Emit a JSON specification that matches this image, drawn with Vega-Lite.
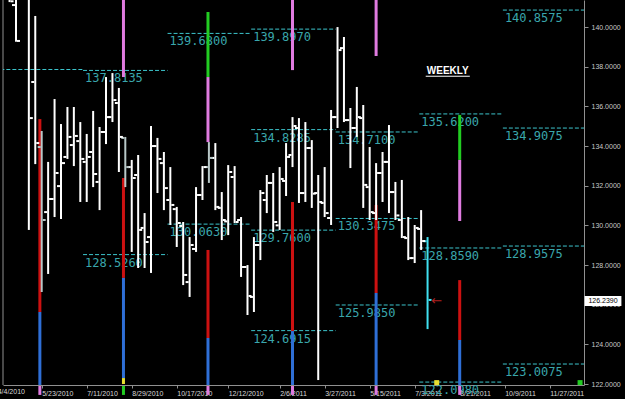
{
"$schema": "https://vega.github.io/schema/vega-lite/v6.json",
"width": 581, "height": 385,
"autosize": "none",
"padding": {"left": 3, "top": 0, "right": 41, "bottom": 14},
"background": "#000000",
"config": {"view": {"stroke": null}, "font": "Liberation Sans"},
"datasets": {
"frame": [{"d": "2010-04-10T21:00:00Z"}],
"bars": [
{"d":"2010-04-18","o":141.8,"h":142.3,"l":141.26,"c":141.3,"s":"h"},
{"d":"2010-04-25","o":141.11,"h":142.2,"l":139.26,"c":139.3,"s":"h"},
{"d":"2010-05-02","o":142.0,"h":142.8,"l":141.5,"c":141.7,"s":"h"},
{"d":"2010-05-09","o":141.5,"h":141.8,"l":129.77,"c":135.41,"s":"h"},
{"d":"2010-05-16","o":137.23,"h":140.56,"l":133.09,"c":134.15,"s":"h"},
{"d":"2010-05-23","o":133.95,"h":134.76,"l":126.64,"c":130.27,"s":"q"},
{"d":"2010-05-30","o":130.67,"h":133.2,"l":127.55,"c":131.33,"s":"h"},
{"d":"2010-06-06","o":131.33,"h":136.37,"l":130.42,"c":132.64,"s":"h"},
{"d":"2010-06-13","o":131.98,"h":135.11,"l":130.32,"c":133.14,"s":"h"},
{"d":"2010-06-20","o":133.45,"h":135.97,"l":133.35,"c":134.46,"s":"h"},
{"d":"2010-06-27","o":134.05,"h":135.97,"l":132.99,"c":134.51,"s":"h"},
{"d":"2010-07-04","o":134.25,"h":135.21,"l":131.18,"c":133.35,"s":"h"},
{"d":"2010-07-11","o":133.2,"h":134.61,"l":131.18,"c":133.45,"s":"h"},
{"d":"2010-07-18","o":133.7,"h":135.77,"l":131.93,"c":132.59,"s":"h"},
{"d":"2010-07-25","o":132.19,"h":134.96,"l":130.77,"c":134.71,"s":"h"},
{"d":"2010-08-01","o":134.71,"h":137.48,"l":134.1,"c":135.46,"s":"h"},
{"d":"2010-08-08","o":135.46,"h":137.68,"l":135.21,"c":136.32,"s":"h"},
{"d":"2010-08-15","o":136.17,"h":136.93,"l":132.69,"c":134.46,"s":"h"},
{"d":"2010-08-22","o":134.41,"h":134.46,"l":131.93,"c":132.94,"s":"q"},
{"d":"2010-08-29","o":132.94,"h":133.3,"l":128.66,"c":132.39,"s":"h"},
{"d":"2010-09-05","o":132.54,"h":133.55,"l":127.85,"c":129.77,"s":"h"},
{"d":"2010-09-12","o":129.87,"h":130.62,"l":127.85,"c":129.16,"s":"h"},
{"d":"2010-09-19","o":129.41,"h":135.01,"l":127.6,"c":134.0,"s":"h"},
{"d":"2010-09-26","o":134.0,"h":134.41,"l":131.63,"c":133.35,"s":"h"},
{"d":"2010-10-03","o":133.14,"h":133.7,"l":130.77,"c":131.88,"s":"h"},
{"d":"2010-10-10","o":131.28,"h":132.94,"l":130.02,"c":131.03,"s":"h"},
{"d":"2010-10-17","o":130.82,"h":130.93,"l":128.91,"c":130.12,"s":"h"},
{"d":"2010-10-24","o":129.97,"h":130.17,"l":126.99,"c":127.5,"s":"h"},
{"d":"2010-10-31","o":127.14,"h":129.41,"l":126.39,"c":129.01,"s":"h"},
{"d":"2010-11-07","o":128.81,"h":131.93,"l":128.66,"c":131.53,"s":"h"},
{"d":"2010-11-14","o":131.53,"h":132.99,"l":131.28,"c":132.94,"s":"h"},
{"d":"2010-11-21","o":132.94,"h":134.2,"l":132.14,"c":133.4,"s":"q"},
{"d":"2010-11-28","o":133.4,"h":134.15,"l":130.77,"c":130.93,"s":"h"},
{"d":"2010-12-05","o":130.88,"h":131.68,"l":129.26,"c":130.27,"s":"h"},
{"d":"2010-12-12","o":130.2,"h":133.04,"l":129.51,"c":132.69,"s":"h"},
{"d":"2010-12-19","o":132.44,"h":132.99,"l":130.12,"c":130.17,"s":"h"},
{"d":"2010-12-26","o":130.27,"h":130.42,"l":127.4,"c":127.9,"s":"h"},
{"d":"2011-01-02","o":127.9,"h":128.0,"l":125.48,"c":126.44,"s":"h"},
{"d":"2011-01-09","o":126.39,"h":129.41,"l":125.63,"c":129.01,"s":"h"},
{"d":"2011-01-16","o":129.01,"h":131.78,"l":128.25,"c":131.63,"s":"h"},
{"d":"2011-01-23","o":131.28,"h":132.54,"l":130.62,"c":132.14,"s":"h"},
{"d":"2011-01-30","o":132.14,"h":132.64,"l":129.67,"c":130.17,"s":"h"},
{"d":"2011-02-06","o":130.0,"h":132.94,"l":129.77,"c":132.34,"s":"h"},
{"d":"2011-02-13","o":132.24,"h":134.15,"l":131.48,"c":133.45,"s":"h"},
{"d":"2011-02-20","o":133.55,"h":135.46,"l":132.94,"c":135.01,"s":"h"},
{"d":"2011-02-27","o":134.91,"h":135.41,"l":131.13,"c":131.63,"s":"h"},
{"d":"2011-03-06","o":131.63,"h":135.21,"l":131.18,"c":133.9,"s":"h"},
{"d":"2011-03-13","o":133.9,"h":134.3,"l":130.88,"c":131.6,"s":"h"},
{"d":"2011-03-20","o":131.63,"h":132.54,"l":122.2,"c":131.18,"s":"h"},
{"d":"2011-03-27","o":131.13,"h":132.94,"l":130.42,"c":130.62,"s":"h"},
{"d":"2011-04-03","o":130.37,"h":135.82,"l":130.02,"c":135.46,"s":"h"},
{"d":"2011-04-10","o":135.46,"h":140.0,"l":134.91,"c":138.84,"s":"h"},
{"d":"2011-04-17","o":138.94,"h":139.5,"l":135.21,"c":135.31,"s":"h"},
{"d":"2011-04-24","o":135.31,"h":135.92,"l":132.89,"c":134.91,"s":"h"},
{"d":"2011-05-01","o":134.91,"h":136.98,"l":134.46,"c":135.46,"s":"h"},
{"d":"2011-05-08","o":135.41,"h":136.07,"l":130.88,"c":132.04,"s":"h"},
{"d":"2011-05-15","o":131.93,"h":133.95,"l":130.27,"c":130.67,"s":"h"},
{"d":"2011-05-22","o":130.62,"h":133.14,"l":130.27,"c":132.64,"s":"h"},
{"d":"2011-05-29","o":132.64,"h":133.7,"l":131.18,"c":133.2,"s":"h"},
{"d":"2011-06-05","o":133.2,"h":135.06,"l":130.62,"c":131.68,"s":"h"},
{"d":"2011-06-12","o":131.68,"h":132.19,"l":130.27,"c":130.5,"s":"h"},
{"d":"2011-06-19","o":130.27,"h":132.29,"l":129.36,"c":129.41,"s":"h"},
{"d":"2011-06-26","o":129.36,"h":130.42,"l":128.25,"c":128.35,"s":"h"},
{"d":"2011-07-03","o":128.35,"h":130.02,"l":128.1,"c":129.87,"s":"h"},
{"d":"2011-07-10","o":129.82,"h":130.77,"l":128.76,"c":129.21,"s":"h"},
{"d":"2011-07-17","o":129.2,"h":129.41,"l":124.77,"c":126.24,"s":"cur"}
],
"levels": [
{"d":"2010-04-08","d2":"2010-07-07","p":137.86,"lab":""},
{"d":"2010-07-07","d2":"2010-10-07","p":137.8135,"lab":"137.8135"},
{"d":"2010-07-07","d2":"2010-10-07","p":128.526,"lab":"128.5260"},
{"d":"2010-10-07","d2":"2011-01-06","p":139.68,"lab":"139.6800"},
{"d":"2010-10-07","d2":"2011-01-06","p":130.063,"lab":"130.0630"},
{"d":"2011-01-06","d2":"2011-04-08","p":139.897,"lab":"139.8970"},
{"d":"2011-01-06","d2":"2011-04-08","p":134.8285,"lab":"134.8285"},
{"d":"2011-01-06","d2":"2011-04-08","p":129.76,"lab":"129.7600"},
{"d":"2011-01-06","d2":"2011-04-08","p":124.6915,"lab":"124.6915"},
{"d":"2011-04-08","d2":"2011-07-08","p":134.71,"lab":"134.7100"},
{"d":"2011-04-08","d2":"2011-07-08","p":130.3475,"lab":"130.3475"},
{"d":"2011-04-08","d2":"2011-07-08","p":125.985,"lab":"125.9850"},
{"d":"2011-07-08","d2":"2011-10-07","p":135.62,"lab":"135.6200"},
{"d":"2011-07-08","d2":"2011-10-07","p":128.859,"lab":"128.8590"},
{"d":"2011-07-08","d2":"2011-10-07","p":122.098,"lab":"122.0980"},
{"d":"2011-10-07","d2":"2012-01-04","p":140.8575,"lab":"140.8575"},
{"d":"2011-10-07","d2":"2012-01-04","p":134.9075,"lab":"134.9075"},
{"d":"2011-10-07","d2":"2012-01-04","p":128.9575,"lab":"128.9575"},
{"d":"2011-10-07","d2":"2012-01-04","p":123.0075,"lab":"123.0075"}
],
"ind": [
{"d":"2010-05-21","lo":125.63,"hi":135.36,"st":"R"},
{"d":"2010-05-21","lo":121.95,"hi":125.63,"st":"B"},
{"d":"2010-05-21","lo":121.45,"hi":121.9,"st":"P"},
{"d":"2010-08-20","lo":137.48,"hi":141.37,"st":"P"},
{"d":"2010-08-20","lo":127.35,"hi":132.39,"st":"R"},
{"d":"2010-08-20","lo":122.3,"hi":127.35,"st":"B"},
{"d":"2010-08-20","lo":122.0,"hi":122.3,"st":"Y"},
{"d":"2010-08-20","lo":121.45,"hi":121.9,"st":"G"},
{"d":"2010-11-20","lo":137.48,"hi":140.76,"st":"G"},
{"d":"2010-11-20","lo":134.2,"hi":137.48,"st":"P"},
{"d":"2010-11-20","lo":124.32,"hi":128.76,"st":"R"},
{"d":"2010-11-20","lo":121.95,"hi":124.32,"st":"B"},
{"d":"2010-11-20","lo":121.45,"hi":121.9,"st":"P"},
{"d":"2011-02-20","lo":137.83,"hi":141.37,"st":"P"},
{"d":"2011-02-20","lo":124.67,"hi":131.18,"st":"R"},
{"d":"2011-02-20","lo":121.95,"hi":124.67,"st":"B"},
{"d":"2011-02-20","lo":121.45,"hi":121.9,"st":"P"},
{"d":"2011-05-22","lo":138.54,"hi":141.37,"st":"P"},
{"d":"2011-05-22","lo":126.59,"hi":131.03,"st":"R"},
{"d":"2011-05-22","lo":121.95,"hi":126.59,"st":"B"},
{"d":"2011-05-22","lo":121.45,"hi":121.9,"st":"P"},
{"d":"2011-08-21","lo":133.3,"hi":135.57,"st":"G"},
{"d":"2011-08-21","lo":130.22,"hi":133.3,"st":"P"},
{"d":"2011-08-21","lo":124.22,"hi":127.24,"st":"R"},
{"d":"2011-08-21","lo":121.95,"hi":124.22,"st":"B"},
{"d":"2011-08-21","lo":121.45,"hi":121.9,"st":"P"}
],
"title": [{"d":"2011-08-08","y":137.63,"t":"WEEKLY"}],
"under": [{"d":"2011-07-15","d2":"2011-09-01","y":137.52}],
"arrow": [{"d":"2011-07-27","y":126.2,"t":"←"}],
"firstlab": [{"d":"2010-04-04","y":121.6,"t":"4/4/2010"}],
"box": [{"d":"2012-01-04","d2":"2012-02-13","y":125.93,"y2":126.44,"m":"2012-01-24","p":126.19,"t":"126.2390"}],
"marks": [{"d":"2011-07-27","y":122.07,"st":"Y"},{"d":"2011-12-30","y":122.07,"st":"G"}]
},
"encoding": {
"x": {"field": "d", "type": "temporal", "title": null,
 "scale": {"type": "utc", "domain": [{"year":2010,"month":4,"date":10,"hours":21,"utc":true},{"year":2012,"month":1,"date":3,"hours":7,"utc":true}]},
 "axis": {"title": null, "format": "%-m/%-d/%Y", "labelAlign": "left", "labelBaseline": "top", "labelDx": 1, "labelPadding": 1,
  "labelFontSize": 7, "labelColor": "#d8d8d8", "labelFont": "Liberation Sans", "tickSize": 3, "tickColor": "#909090",
  "domainColor": "#909090", "labelOverlap": false, "labelFlush": false, "grid": false,
  "values": [
   {"year":2010,"month":5,"date":23,"utc":true},{"year":2010,"month":7,"date":11,"utc":true},
   {"year":2010,"month":8,"date":29,"utc":true},{"year":2010,"month":10,"date":17,"utc":true},{"year":2010,"month":12,"date":12,"utc":true},
   {"year":2011,"month":2,"date":6,"utc":true},{"year":2011,"month":3,"date":27,"utc":true},{"year":2011,"month":5,"date":15,"utc":true},
   {"year":2011,"month":7,"date":3,"utc":true},{"year":2011,"month":8,"date":21,"utc":true},{"year":2011,"month":10,"date":9,"utc":true},
   {"year":2011,"month":11,"date":27,"utc":true}]}}
},
"layer": [
{"data": {"name": "frame"}, "mark": {"type": "rule", "color": "#909090", "strokeWidth": 1}},
{"data": {"name": "bars"},
 "mark": {"type": "rule", "strokeWidth": 0, "opacity": 0},
 "encoding": {"y": {"field": "l", "type": "quantitative", "title": null, "scale": {"domain": [121.95, 141.365], "zero": false, "nice": false},
   "axis": {"orient": "right", "title": null, "values": [122,124,126,128,130,132,134,136,138,140], "format": ".4f", "labelFontSize": 7, "labelColor": "#c8c8c8", "labelFont": "Liberation Sans", "tickSize": 4, "tickColor": "#909090", "domainColor": "#909090", "labelPadding": 3, "grid": false}}}},
{"data": {"name": "levels"},
 "mark": {"type": "rule", "strokeDash": [4, 2], "color": "#3cc4cc", "strokeWidth": 1, "clip": true},
 "encoding": {"x2": {"field": "d2"}, "y": {"field": "p", "type": "quantitative", "title": null, "scale": {"domain": [121.95, 141.365], "zero": false, "nice": false}}}},
{"data": {"name": "levels"},
 "mark": {"type": "text", "align": "left", "baseline": "top", "dx": 2, "dy": 3, "font": "DejaVu Sans Mono", "fontSize": 12, "color": "#3aa6ac", "clip": false},
 "encoding": {"y": {"field": "p", "type": "quantitative", "title": null, "scale": {"domain": [121.95, 141.365], "zero": false, "nice": false}}, "text": {"field": "lab"}}},
{"data": {"name": "ind"},
 "mark": {"type": "rule", "strokeWidth": 3, "clip": false},
 "encoding": {"y": {"field": "lo", "type": "quantitative", "title": null, "scale": {"domain": [121.95, 141.365], "zero": false, "nice": false}},
  "y2": {"field": "hi"},
  "color": {"field": "st", "type": "nominal", "legend": null, "scale": {"domain": ["h","q","cur","P","G","R","B","Y"], "range": ["#ffffff","#b8c8c8","#40e0f0","#e07be0","#22cc22","#cc1111","#2f6fd6","#e8e030"]}}}},
{"data": {"name": "bars"},
 "mark": {"type": "rule", "strokeWidth": 2, "clip": true},
 "encoding": {"y": {"field": "l", "type": "quantitative", "title": null, "scale": {"domain": [121.95, 141.365], "zero": false, "nice": false}},
  "y2": {"field": "h"},
  "color": {"field": "s", "type": "nominal", "legend": null, "scale": {"domain": ["h","q","cur","P","G","R","B","Y"], "range": ["#ffffff","#b8c8c8","#40e0f0","#e07be0","#22cc22","#cc1111","#2f6fd6","#e8e030"]}}}},
{"data": {"name": "bars"},
 "mark": {"type": "tick", "orient": "horizontal", "size": 3, "thickness": 2, "xOffset": -2.5, "opacity": 1, "clip": true},
 "encoding": {"y": {"field": "o", "type": "quantitative", "title": null, "scale": {"domain": [121.95, 141.365], "zero": false, "nice": false}},
  "color": {"field": "s", "type": "nominal", "legend": null, "scale": {"domain": ["h","q","cur","P","G","R","B","Y"], "range": ["#ffffff","#b8c8c8","#40e0f0","#e07be0","#22cc22","#cc1111","#2f6fd6","#e8e030"]}}}},
{"data": {"name": "bars"},
 "mark": {"type": "tick", "orient": "horizontal", "size": 3, "thickness": 2, "xOffset": 2.5, "opacity": 1, "clip": true},
 "encoding": {"y": {"field": "c", "type": "quantitative", "title": null, "scale": {"domain": [121.95, 141.365], "zero": false, "nice": false}},
  "color": {"field": "s", "type": "nominal", "legend": null, "scale": {"domain": ["h","q","cur","P","G","R","B","Y"], "range": ["#ffffff","#b8c8c8","#40e0f0","#e07be0","#22cc22","#cc1111","#2f6fd6","#e8e030"]}}}},
{"data": {"name": "title"},
 "mark": {"type": "text", "align": "center", "baseline": "alphabetic", "font": "Liberation Sans", "fontWeight": "bold", "fontSize": 10, "color": "#ffffff"},
 "encoding": {"y": {"field": "y", "type": "quantitative", "title": null, "scale": {"domain": [121.95, 141.365], "zero": false, "nice": false}}, "text": {"field": "t"}}},
{"data": {"name": "under"},
 "mark": {"type": "rule", "color": "#ffffff", "strokeWidth": 1},
 "encoding": {"x2": {"field": "d2"}, "y": {"field": "y", "type": "quantitative", "title": null, "scale": {"domain": [121.95, 141.365], "zero": false, "nice": false}}}},
{"data": {"name": "arrow"},
 "mark": {"type": "text", "align": "center", "baseline": "middle", "font": "DejaVu Sans", "fontSize": 13, "color": "#b02020"},
 "encoding": {"y": {"field": "y", "type": "quantitative", "title": null, "scale": {"domain": [121.95, 141.365], "zero": false, "nice": false}}, "text": {"field": "t"}}},
{"data": {"name": "firstlab"},
 "mark": {"type": "text", "align": "left", "baseline": "middle", "dx": 1, "font": "Liberation Sans", "fontSize": 7, "color": "#d8d8d8", "clip": false},
 "encoding": {"y": {"field": "y", "type": "quantitative", "title": null, "scale": {"domain": [121.95, 141.365], "zero": false, "nice": false}}, "text": {"field": "t"}}},
{"data": {"name": "box"},
 "mark": {"type": "rect", "color": "#ffffff", "clip": false},
 "encoding": {"x2": {"field": "d2"}, "y": {"field": "y", "type": "quantitative", "title": null, "scale": {"domain": [121.95, 141.365], "zero": false, "nice": false}}, "y2": {"field": "y2"}}},
{"data": {"name": "box"},
 "mark": {"type": "text", "align": "center", "baseline": "middle", "font": "Liberation Sans", "fontSize": 7, "color": "#000000", "clip": false},
 "encoding": {"x": {"field": "m", "type": "temporal", "title": null}, "y": {"field": "p", "type": "quantitative", "title": null, "scale": {"domain": [121.95, 141.365], "zero": false, "nice": false}}, "text": {"field": "t"}}},
{"data": {"name": "marks"},
 "mark": {"type": "square", "size": 25, "opacity": 1, "clip": false},
 "encoding": {"y": {"field": "y", "type": "quantitative", "title": null, "scale": {"domain": [121.95, 141.365], "zero": false, "nice": false}},
  "color": {"field": "st", "type": "nominal", "legend": null, "scale": {"domain": ["h","q","cur","P","G","R","B","Y"], "range": ["#ffffff","#b8c8c8","#40e0f0","#e07be0","#22cc22","#cc1111","#2f6fd6","#e8e030"]}}}}
]
}
